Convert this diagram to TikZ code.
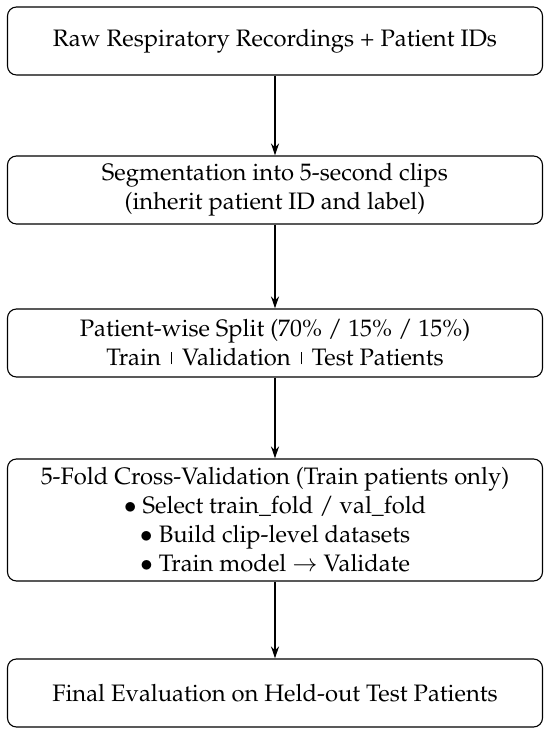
\documentclass[tikz,border=0pt]{standalone}
\usepackage[T1]{fontenc}
\usepackage{mathpazo}
\usetikzlibrary{arrows.meta}
\newcommand{\sepbar}{\hspace{10pt}\raisebox{1.5pt}{\rule{1.2pt}{12pt}}\hspace{10pt}}
\begin{document}
\begin{tikzpicture}[x=1pt,y=1pt, every node/.style={font=\fontsize{23.8}{29}\selectfont},
  stage/.style={draw, line width=1.1pt, rounded corners=9pt, minimum width=535pt, align=center, inner sep=0pt},
  flow/.style={-{Stealth[length=12pt,width=8pt]}, line width=1.5pt}]
\useasboundingbox (0,0) rectangle (550,730);
\node[stage, minimum height=68pt] (raw) at (275,689) {Raw Respiratory Recordings + Patient IDs};
\node[stage, minimum height=68pt] (seg) at (275,540) {Segmentation into 5-second clips\\(inherit patient ID and label)};
\node[stage, minimum height=68pt] (split) at (275,387) {Patient-wise Split (70\% / 15\% / 15\%)\\Train\sepbar Validation\sepbar Test Patients};
\node[stage, minimum height=122pt] (cv) at (275,210) {5-Fold Cross-Validation (Train patients only)\\$\bullet$ Select train\_fold / val\_fold\\$\bullet$ Build clip-level datasets\\$\bullet$ Train model $\rightarrow$ Validate};
\node[stage, minimum height=68pt] (final) at (275,37) {Final Evaluation on Held-out Test Patients};
\draw[flow] (raw) -- (seg);
\draw[flow] (seg) -- (split);
\draw[flow] (split) -- (cv);
\draw[flow] (cv) -- (final);
\end{tikzpicture}
\end{document}
